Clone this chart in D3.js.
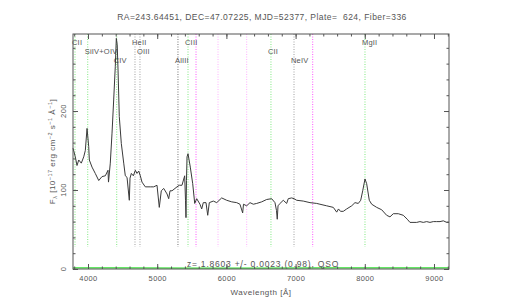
<!DOCTYPE html>
<html>
<head>
<meta charset="utf-8">
<script src="https://cdn.jsdelivr.net/npm/d3@7"></script>
<style>
  body { margin: 0; background: #fff; }
  svg text { font-family: "Liberation Sans", Arial, sans-serif; }
</style>
</head>
<body>
<svg id="chart" width="523" height="305"></svg>
<script>
const specWave = [3783, 3816, 3841, 3866, 3903, 3938, 3961, 3986, 4010, 4019,
  4058, 4105, 4155, 4202, 4250, 4289, 4296, 4322, 4347, 4371,
  4394, 4409, 4422, 4434, 4452, 4481, 4516, 4539, 4564, 4597,
  4607, 4626, 4655, 4684, 4708, 4733, 4756, 4780, 4828, 4900,
  4949, 4997, 5030, 5059, 5094, 5142, 5166, 5185, 5214, 5286,
  5319, 5358, 5397, 5409, 5416, 5423, 5431, 5445, 5478, 5513,
  5542, 5571, 5618, 5643, 5666, 5705, 5730, 5753, 5811, 5860,
  5932, 6004, 6077, 6149, 6196, 6235, 6247, 6293, 6341, 6389,
  6438, 6510, 6582, 6654, 6702, 6724, 6735, 6746, 6764, 6822,
  6871, 6894, 6943, 6977, 7016, 7111, 7208, 7305, 7352, 7449,
  7545, 7594, 7620, 7649, 7689, 7738, 7811, 7858, 7906, 7941,
  7970, 8003, 8027, 8065, 8100, 8172, 8244, 8316, 8364, 8412,
  8484, 8556, 8614, 8653, 8750, 8797, 8845, 8894, 8942, 8990,
  9039, 9087, 9135, 9184, 9217];
const specFlux = [153, 142, 131, 138, 134, 142, 150, 178, 155, 138,
  129, 121, 112, 117, 118, 125, 110, 134, 172, 214,
  256, 292, 284, 252, 193, 159, 134, 118, 116, 87,
  115, 121, 118, 125, 121, 124, 118, 110, 104, 104,
  104, 106, 78, 99, 102, 95, 89, 99, 99, 104,
  106, 106, 118, 87, 65, 112, 142, 146, 129, 108,
  83, 89, 82, 76, 84, 84, 68, 84, 86, 84,
  90, 87, 85, 84, 82, 71, 82, 80, 84, 82,
  83, 85, 88, 89, 84, 74, 63, 80, 82, 87,
  83, 89, 90, 89, 87, 86, 84, 83, 82, 80,
  78, 72, 76, 73, 73, 76, 80, 84, 83, 87,
  99, 114, 108, 87, 82, 78, 75, 68, 66, 70,
  70, 68, 63, 59, 59, 60, 59, 60, 59, 60,
  60, 60, 61, 59, 59];

// Error spectrum (green, near zero)
const errWave = [3783, 4500, 5500, 6500, 7500, 8500, 9217];
const errFlux = [1.5, 1.3, 1.2, 1.2, 1.3, 1.4, 1.5];

// Line identifications: name, observed wavelength, kind
const lineNames = ["CII", "SiIV+OIV", "CIV", "HeII", "OIII", "AlIII", "CIII", "CII", "NeIV", "MgII"];
const lineWave = [3812, 3996, 4415, 4679, 4751, 5300, 5445, 6644, 6977, 8003];
const lineKind = ["green", "green", "green", "gray", "gray", "dark", "green", "green", "gray", "green"];

// Sky lines (magenta / pink)
const skyWave = [5561, 5879, 6293, 7247];
const skyKind = ["magenta", "pink", "pink", "magenta"];

const xMajor = [4000, 5000, 6000, 7000, 8000, 9000];
const yMajor = [0, 100, 200];

const titleText = "RA=243.64451, DEC=47.07225, MJD=52377, Plate=  624, Fiber=336";
const zText = "z= 1.8603 +/- 0.0023 (0.98), QSO";

// layout
const plot = { left: 73, right: 449, top: 34, bottom: 269 };
const labelRow = [0, 1, 2, 0, 1, 2, 0, 1, 2, 0];
const rowBase = [45, 54, 63];
const colors = { green: "#7ee87e", gray: "#a0a0a0", dark: "#707070", magenta: "#ff55ff", pink: "#ffb0ff" };
const textColor = "#555";

const svg = d3.select("#chart");

const x = d3.scaleLinear().domain([3783, 9217]).range([plot.left, plot.right]);
const y = d3.scaleLinear().domain([0, 297.5]).range([plot.bottom, plot.top]);

const xMinor = d3.range(3800, 9201, 200);
const yMinor = d3.range(0, 297, 20);

// vertical marker lines
const yLineEnd = 28;
svg.append("g").selectAll("line")
  .data(skyWave)
  .join("line")
  .attr("x1", d => x(d)).attr("x2", d => x(d))
  .attr("y1", y(y.domain()[1])).attr("y2", y(yLineEnd))
  .attr("stroke", (d, i) => colors[skyKind[i]])
  .attr("stroke-width", 1)
  .attr("stroke-dasharray", "1,1.5");

svg.append("g").selectAll("line")
  .data(lineWave)
  .join("line")
  .attr("x1", d => x(d)).attr("x2", d => x(d))
  .attr("y1", y(y.domain()[1])).attr("y2", y(yLineEnd))
  .attr("stroke", (d, i) => colors[lineKind[i]])
  .attr("stroke-width", 1)
  .attr("stroke-dasharray", "1,1.5");

svg.append("g").selectAll("text")
  .data(lineNames)
  .join("text")
  .attr("x", (d, i) => x(lineWave[i]) - 3)
  .attr("y", (d, i) => rowBase[labelRow[i]])
  .attr("font-size", "7.5px")
  .attr("letter-spacing", "0.2px")
  .attr("fill", textColor)
  .text(d => d);

// error line
const line = d3.line().x(d => x(d[0])).y(d => y(d[1]));
svg.append("path")
  .datum(d3.zip(errWave, errFlux))
  .attr("fill", "none")
  .attr("stroke", "#33dd33")
  .attr("stroke-width", 1.2)
  .attr("d", line);

// spectrum
svg.append("path")
  .datum(d3.zip(specWave, specFlux))
  .attr("fill", "none")
  .attr("stroke", "#3a3a3a")
  .attr("stroke-width", 1)
  .attr("d", line);

// axes with inward ticks
function styleAxis(g) {
  g.select(".domain").remove();
  g.selectAll("line").attr("stroke", "#555");
}
svg.append("g").attr("transform", `translate(0,${plot.bottom})`)
  .call(d3.axisBottom(x).tickValues(xMinor).tickSize(-2.5).tickFormat(""))
  .call(styleAxis);
svg.append("g").attr("transform", `translate(0,${plot.top})`)
  .call(d3.axisTop(x).tickValues(xMinor).tickSize(-2.5).tickFormat(""))
  .call(styleAxis);
svg.append("g").attr("transform", `translate(0,${plot.top})`)
  .call(d3.axisTop(x).tickValues(xMajor).tickSize(-5).tickFormat(""))
  .call(styleAxis);
const xAxis = svg.append("g").attr("transform", `translate(0,${plot.bottom})`)
  .call(d3.axisBottom(x).tickValues(xMajor).tickSize(-5).tickPadding(7).tickFormat(d3.format("d")))
  .call(styleAxis);
xAxis.selectAll("text")
  .attr("font-size", "7.5px")
  .attr("letter-spacing", "0.4px")
  .attr("fill", textColor);

svg.append("g").attr("transform", `translate(${plot.left},0)`)
  .call(d3.axisLeft(y).tickValues(yMinor).tickSize(-2.5).tickFormat(""))
  .call(styleAxis);
svg.append("g").attr("transform", `translate(${plot.right},0)`)
  .call(d3.axisRight(y).tickValues(yMinor).tickSize(-2.5).tickFormat(""))
  .call(styleAxis);
svg.append("g").attr("transform", `translate(${plot.right},0)`)
  .call(d3.axisRight(y).tickValues(yMajor).tickSize(-5).tickFormat(""))
  .call(styleAxis);
svg.append("g").attr("transform", `translate(${plot.left},0)`)
  .call(d3.axisLeft(y).tickValues(yMajor).tickSize(-5).tickFormat(""))
  .call(styleAxis);

// rotated y tick labels
svg.append("g").selectAll("text")
  .data(yMajor)
  .join("text")
  .attr("transform", d => `translate(66,${y(d)}) rotate(-90)`)
  .attr("text-anchor", "middle")
  .attr("font-size", "7.5px")
  .attr("letter-spacing", "0.4px")
  .attr("fill", textColor)
  .text(d => d);

// frame
svg.append("rect")
  .attr("x", plot.left).attr("y", plot.top)
  .attr("width", plot.right - plot.left).attr("height", plot.bottom - plot.top)
  .attr("fill", "none").attr("stroke", "#555").attr("stroke-width", 1);

// titles
svg.append("text")
  .attr("x", 262).attr("y", 20)
  .attr("text-anchor", "middle")
  .attr("font-size", "8.5px")
  .attr("letter-spacing", "0.45px")
  .attr("fill", textColor)
  .attr("xml:space", "preserve")
  .text(titleText);

svg.append("text")
  .attr("x", 263).attr("y", 266.5)
  .attr("text-anchor", "middle")
  .attr("font-size", "8.5px")
  .attr("letter-spacing", "0.8px")
  .attr("fill", textColor)
  .attr("xml:space", "preserve")
  .text(zText);

svg.append("text")
  .attr("x", 261).attr("y", 295)
  .attr("text-anchor", "middle")
  .attr("font-size", "8px")
  .attr("letter-spacing", "0.5px")
  .attr("fill", textColor)
  .text("Wavelength [Å]");

// y axis label with sub/superscripts
const yl = svg.append("text")
  .attr("transform", `translate(55,${(plot.top + plot.bottom) / 2}) rotate(-90)`)
  .attr("text-anchor", "middle")
  .attr("font-size", "8px")
  .attr("letter-spacing", "0.5px")
  .attr("fill", textColor);
yl.append("tspan").text("F");
yl.append("tspan").attr("font-size", "5.5px").attr("dy", 2).text("λ");
yl.append("tspan").attr("dy", -2).text(" [10");
yl.append("tspan").attr("font-size", "5.5px").attr("dy", -3).text("−17");
yl.append("tspan").attr("dy", 3).text(" erg cm");
yl.append("tspan").attr("font-size", "5.5px").attr("dy", -3).text("−2");
yl.append("tspan").attr("dy", 3).text(" s");
yl.append("tspan").attr("font-size", "5.5px").attr("dy", -3).text("−1");
yl.append("tspan").attr("dy", 3).text(" Å");
yl.append("tspan").attr("font-size", "5.5px").attr("dy", -3).text("−1");
yl.append("tspan").attr("dy", 3).text("]");
</script>
</body>
</html>
